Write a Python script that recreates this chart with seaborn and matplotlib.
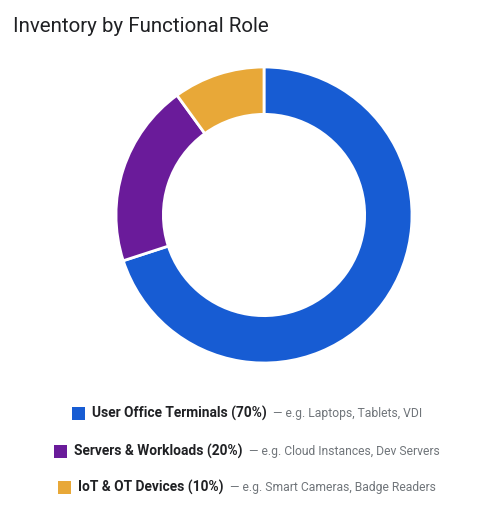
import matplotlib
matplotlib.use("Agg")
import matplotlib.pyplot as plt
import seaborn as sns
from matplotlib.patches import Rectangle

roles = ["User Office Terminals", "Servers & Workloads", "IoT & OT Devices"]
shares = [70, 20, 10]
examples = ["e.g. Laptops, Tablets, VDI",
            "e.g. Cloud Instances, Dev Servers",
            "e.g. Smart Cameras, Badge Readers"]
colors = ["#175CD3", "#6A1B9A", "#E8A838"]

sns.set_theme(style="white")
plt.rcParams["font.family"] = ["Roboto", "DejaVu Sans"]

W, H = 500, 509
fig = plt.figure(figsize=(W / 100, H / 100), dpi=100)
fig.patch.set_facecolor("white")

# donut
cx, cy, r = 264, 215, 148
ax = fig.add_axes([(cx - r) / W, (H - cy - r) / H, 2 * r / W, 2 * r / H])
ax.pie(shares, colors=colors, startangle=90, counterclock=False, radius=1,
       wedgeprops=dict(width=0.32, edgecolor="white", linewidth=2))
ax.set_xlim(-1, 1)
ax.set_ylim(-1, 1)
ax.set_aspect("equal")
ax.axis("off")

fig.text(13 / W, 1 - 26 / H, "Inventory by Functional Role", fontsize=14.8,
         color="#202124", va="center", ha="left")

# legend rows, built by hand so each label can mix bold and grey text
renderer = fig.canvas.get_renderer()
row_y = [413, 451, 487]
center_x = 247
sq = 13
gap1, gap2 = 7, 7
for role, share, ex, col, yy in zip(roles, shares, examples, colors, row_y):
    t1 = fig.text(0, 0, f"{role} ({share}%)", fontsize=9.9, fontweight="bold",
                  color="#202124", va="center", ha="left")
    t2 = fig.text(0, 0, f"— {ex}", fontsize=8.7, color="#70757a",
                  va="center", ha="left")
    w1 = t1.get_window_extent(renderer).width
    w2 = t2.get_window_extent(renderer).width
    total = sq + gap1 + w1 + gap2 + w2
    x0 = center_x - total / 2
    fig.patches.append(Rectangle((x0 / W, (H - yy - sq / 2) / H), sq / W, sq / H,
                                 transform=fig.transFigure, facecolor=col,
                                 edgecolor="none"))
    t1.set_position(((x0 + sq + gap1) / W, 1 - yy / H))
    t2.set_position(((x0 + sq + gap1 + w1 + gap2) / W, 1 - yy / H))

fig.savefig("out.png", dpi=100, facecolor="white")
